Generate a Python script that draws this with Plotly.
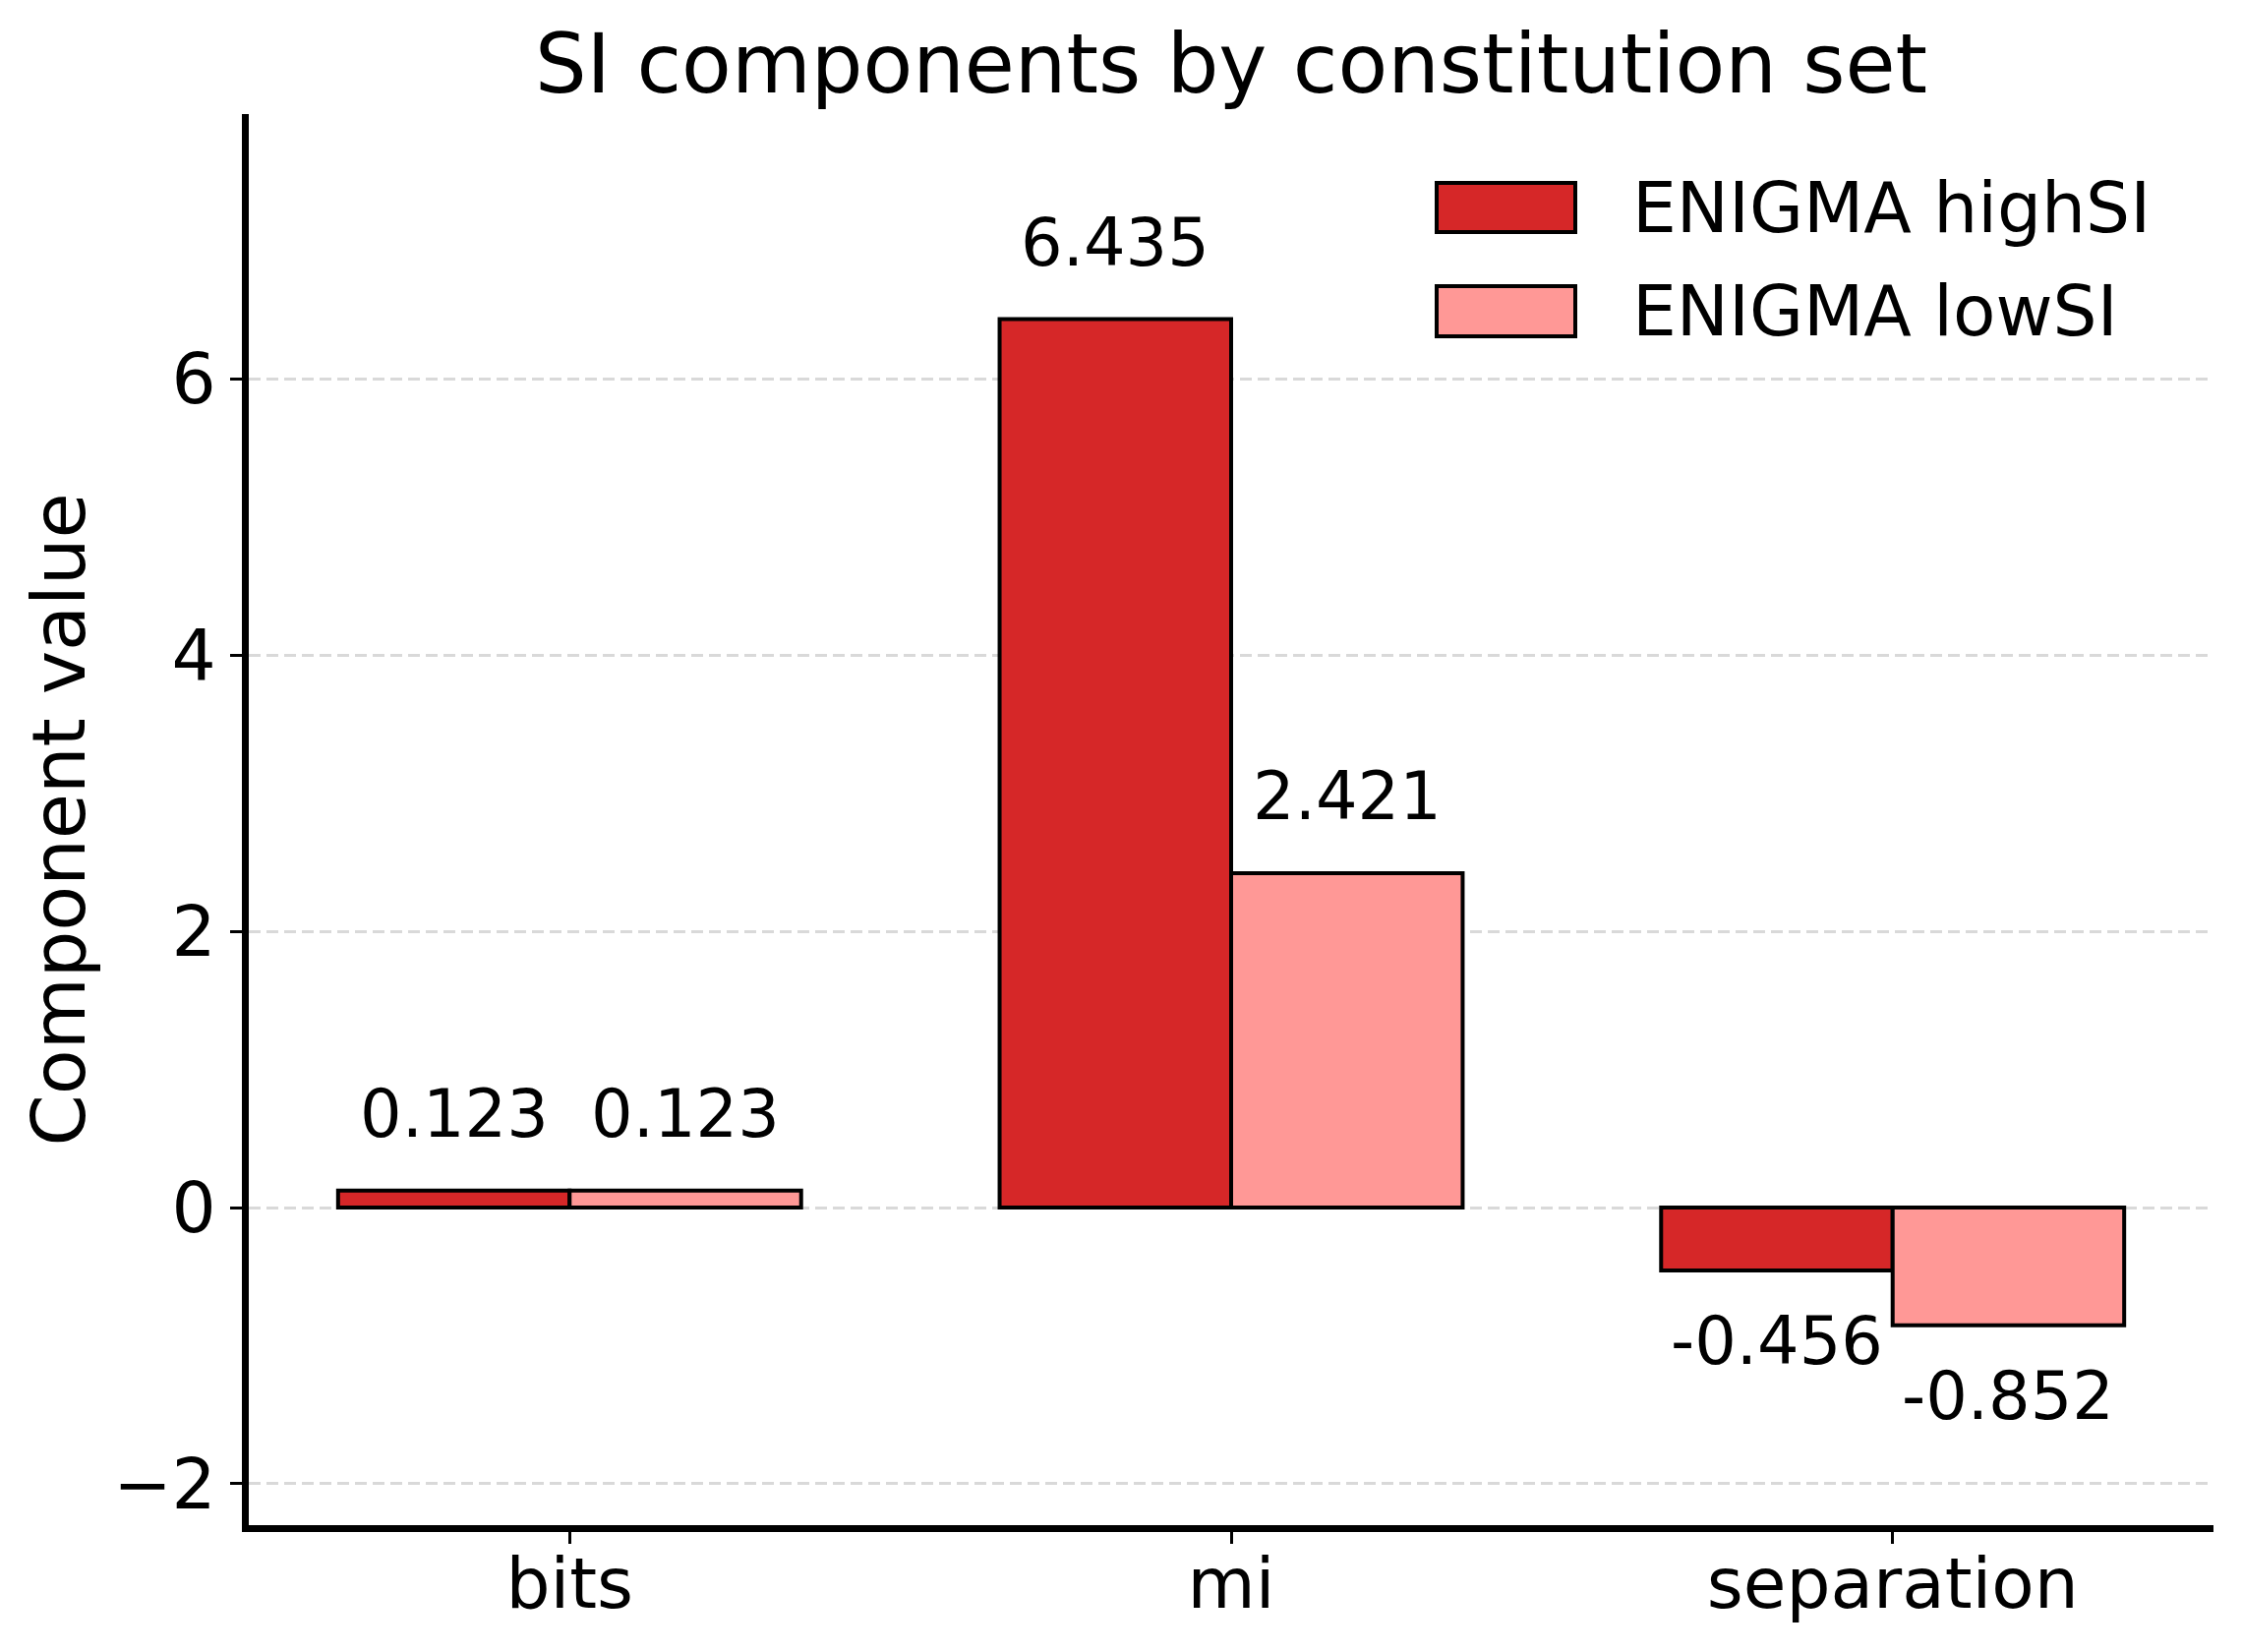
import plotly.graph_objects as go

categories = ["bits", "mi", "separation"]
series_names = ["ENIGMA highSI", "ENIGMA lowSI"]
high_si = [0.123, 6.435, -0.456]
low_si = [0.123, 2.421, -0.852]
colors = ["#d62728", "#ff9896"]
y_ticks = [-2, 0, 2, 4, 6]

W, H = 2280, 1680
ML, MR, MT, MB = 253, 29, 116, 129
FONT = "DejaVu Sans"
BAR_W = 0.35
YMIN, YMAX = -2.30, 7.92

fig = go.Figure()
x_idx = list(range(len(categories)))
for k, (name, vals) in enumerate(zip(series_names, [high_si, low_si])):
    off = (k - 0.5) * BAR_W
    fig.add_trace(go.Bar(
        x=[i + off for i in x_idx], y=vals, name=name, width=BAR_W,
        marker=dict(color=colors[k], line=dict(color="black", width=4)),
        showlegend=False,
    ))
    for i, v in zip(x_idx, vals):
        label = f"{v:.3f}"
        if v >= 0:
            fig.add_annotation(x=i + off, y=v, text=label, showarrow=False,
                               yanchor="bottom", yshift=37,
                               font=dict(family=FONT, size=67, color="black"))
        else:
            fig.add_annotation(x=i + off, y=v, text=label, showarrow=False,
                               yanchor="top", yshift=-31,
                               font=dict(family=FONT, size=67, color="black"))

# manual legend (matplotlib-style patches)
pw = W - ML - MR
ph = H - MT - MB
leg_items = [(186, 236), (291, 342)]
for k, (y0, y1) in enumerate(leg_items):
    fig.add_shape(type="rect", xref="paper", yref="paper",
                  x0=(1461 - ML) / pw, x1=(1602 - ML) / pw,
                  y0=1 - (y1 - MT) / ph, y1=1 - (y0 - MT) / ph,
                  fillcolor=colors[k], line=dict(color="black", width=4))
    fig.add_annotation(xref="paper", yref="paper",
                       x=(1658 - ML) / pw, y=1 - ((y0 + y1) / 2 - MT) / ph,
                       xanchor="left", yanchor="middle", showarrow=False,
                       text=series_names[k],
                       font=dict(family=FONT, size=71, color="black"))

fig.update_layout(
    width=W, height=H, autosize=False,
    margin=dict(l=ML, r=MR, t=MT, b=MB, pad=0),
    paper_bgcolor="white", plot_bgcolor="white",
    font=dict(family=FONT, color="black"),
    title=dict(text="SI components by constitution set", x=(ML + pw / 2) / W,
               xanchor="center", y=1 - 65 / H, yanchor="middle",
               font=dict(family=FONT, size=83, color="black")),
    barmode="overlay",
)
fig.update_xaxes(
    range=[-0.485, 2.485], tickmode="array", tickvals=x_idx, ticktext=categories,
    showline=True, linecolor="black", linewidth=7, mirror=False,
    ticks="outside", ticklen=12, tickwidth=3.3, tickcolor="black",
    tickfont=dict(family=FONT, size=71, color="black"),
    ticklabelstandoff=-20,
    showgrid=False, zeroline=False,
)
fig.update_yaxes(
    range=[YMIN, YMAX], tickmode="array", tickvals=y_ticks,
    showline=True, linecolor="black", linewidth=7,
    ticks="outside", ticklen=12, tickwidth=3.3, tickcolor="black",
    tickfont=dict(family=FONT, size=71, color="black"),
    showgrid=True, gridcolor="#d9d9d9", gridwidth=3, griddash="12px,6px",
    zeroline=False,
    title=dict(text="Component value", font=dict(family=FONT, size=75, color="black"),
               standoff=6),
)

fig.write_html("out.html", config={"displayModeBar": False},
               post_script="document.body.style.margin='0';")
